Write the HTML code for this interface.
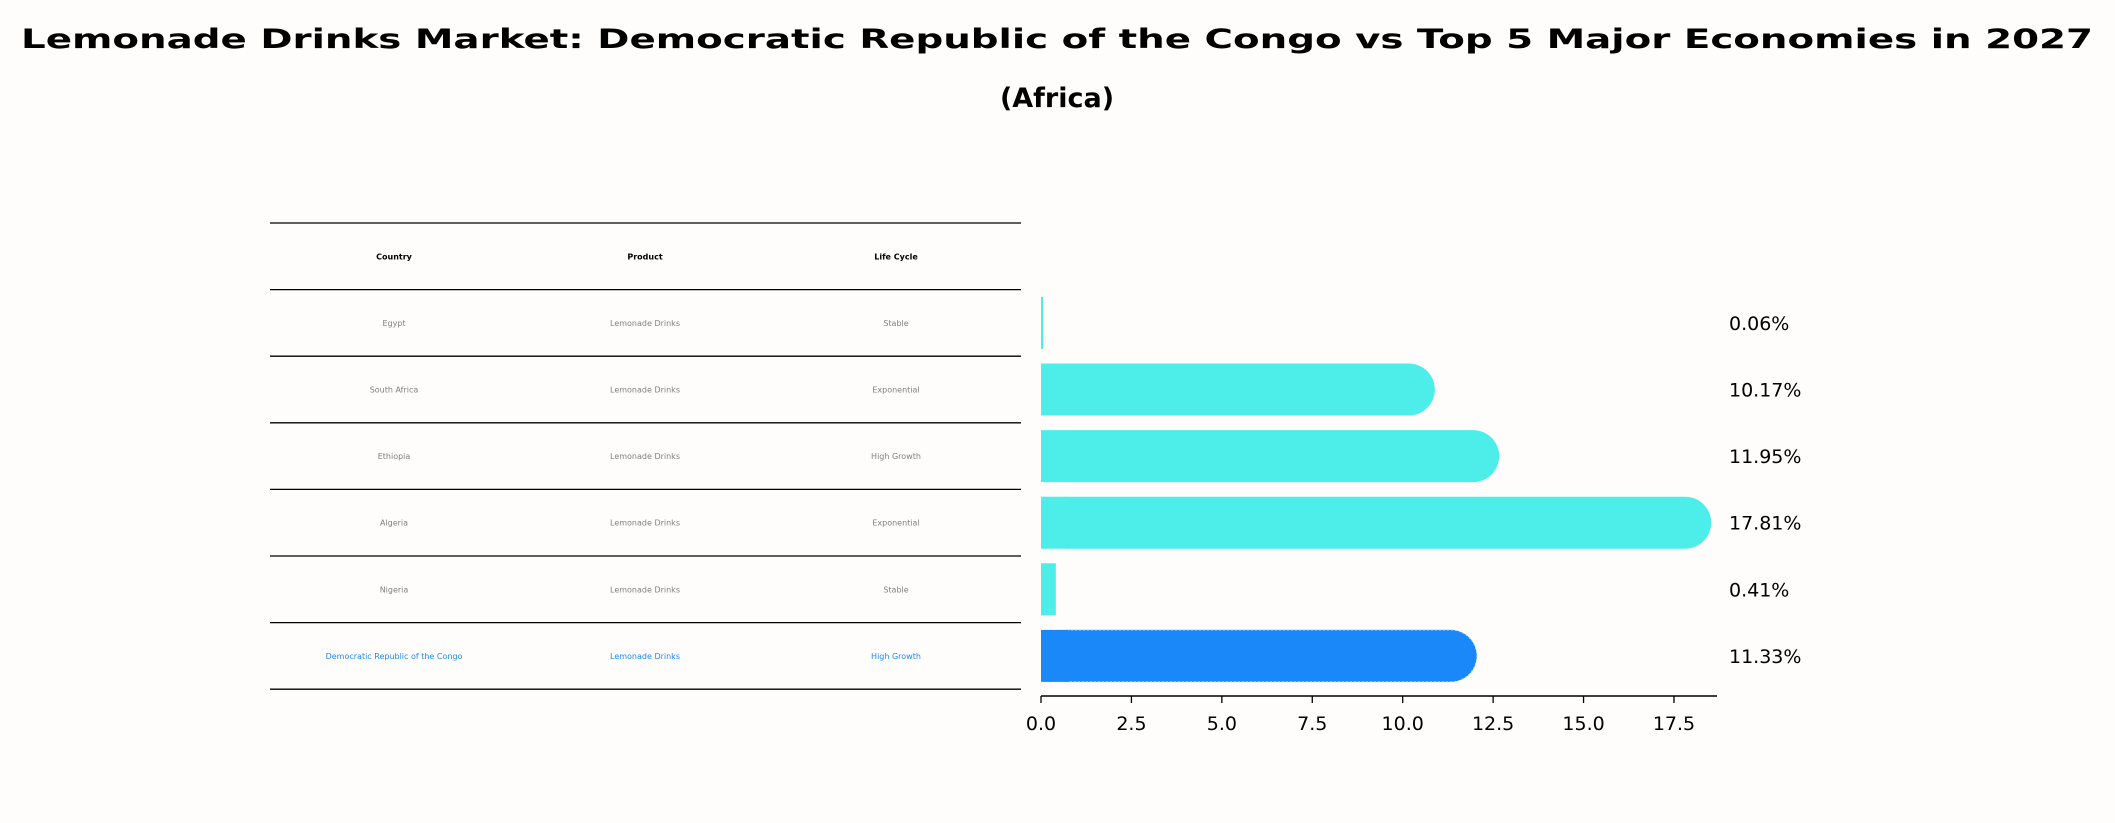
<!DOCTYPE html>
<html><head><meta charset="utf-8"><style>
body{margin:0;background:#fffdfb}
svg{display:block}
text{font-family:"DejaVu Sans","Liberation Sans",sans-serif}
</style></head><body>
<svg width="2115" height="823" viewBox="0 0 2115 823">
<rect width="2115" height="823" fill="#fffdfb"/>
<text x="1057" y="48" text-anchor="middle" font-size="27" font-weight="bold" textLength="2072" lengthAdjust="spacingAndGlyphs">Lemonade Drinks Market: Democratic Republic of the Congo vs Top 5 Major Economies in 2027</text>
<text x="1057" y="107" text-anchor="middle" font-size="27" font-weight="bold">(Africa)</text>
<g id="table"></g>
<g id="bars"></g>
</svg>
<script>
const countries=["Egypt","South Africa","Ethiopia","Algeria","Nigeria","Democratic Republic of the Congo"];
const products=["Lemonade Drinks","Lemonade Drinks","Lemonade Drinks","Lemonade Drinks","Lemonade Drinks","Lemonade Drinks"];
const lifeCycles=["Stable","Exponential","High Growth","Exponential","Stable","High Growth"];
const shares=[0.06,10.17,11.95,17.81,0.41,11.33];
const xTicks=[0,2.5,5,7.5,10,12.5,15,17.5];
const headers=["Country","Product","Life Cycle"];

const NS="http://www.w3.org/2000/svg";
function mk(tag,attrs,parent){const e=document.createElementNS(NS,tag);for(const k in attrs)e.setAttribute(k,attrs[k]);parent.appendChild(e);return e;}
const tbl=document.getElementById('table');
const bars=document.getElementById('bars');
const x0=1041, unit=36.17;
function xs(v){return x0+v*unit;}
const rowTop=223, rowH=66.6;
const colX=[394,645,896];
function rowY(i){return rowTop+rowH*(i+1)+rowH/2;}
// table lines
for(let i=0;i<=countries.length+1;i++){
  const y=rowTop+rowH*i;
  const l=mk('line',{x1:270,x2:1021,y1:y,y2:y,stroke:'#000','stroke-width':1.3},tbl);
  
  
}
headers.forEach((h,j)=>{
  const t=mk('text',{x:colX[j],y:rowTop+rowH/2+3,'text-anchor':'middle','font-size':8,'font-weight':'bold'},tbl);
  t.textContent=h;
  
  
});
countries.forEach((c,i)=>{
  const isT=i===countries.length-1;
  const vals=[c,products[i],lifeCycles[i]];
  vals.forEach((v,j)=>{
    const t=mk('text',{x:colX[j],y:rowY(i)+3,'text-anchor':'middle','font-size':8,fill:isT?'#1a88f8':'#808080'},tbl);
    t.textContent=v;
    
    
  });
});
// bars
const bh=52;
shares.forEach((v,i)=>{
  const isT=i===shares.length-1;
  const cy=rowY(i);
  const w=v*unit;
  const col=isT?'#1a88f8':'#4deeea';
  let el;
  if(w>bh){
    const r=bh/2;
    const d=`M${x0},${cy-r} L${x0+w-r},${cy-r} A${r},${r} 0 0 1 ${x0+w-r},${cy+r} L${x0},${cy+r} Z`;
    el=mk('path',{d:d,fill:col},bars);
    if(isT){el.setAttribute('stroke','#bfe0ff');el.setAttribute('stroke-dasharray','2,2');el.setAttribute('stroke-width','1');}
    // extend by cap so end lies at v + r
    el.setAttribute('transform',`translate(${r},0)`);
    const fix=mk('rect',{x:x0,y:cy-r,width:r+1,height:bh,fill:col},bars);
    
    
  } else {
    el=mk('rect',{x:x0,y:cy-bh/2,width:Math.max(w,1.5),height:bh,fill:col},bars);
  }
  
  
  const t=mk('text',{x:1729,y:cy+7,'font-size':19},bars);
  t.textContent=v.toFixed(2)+'%';
  
  
});
// axis
const ay=696;
const ax=mk('line',{x1:x0,x2:1717,y1:ay,y2:ay,stroke:'#000','stroke-width':1.6},bars);


xTicks.forEach(v=>{
  const tk=mk('line',{x1:xs(v),x2:xs(v),y1:ay,y2:ay+7,stroke:'#000','stroke-width':1.3},bars);
  
  
  const t=mk('text',{x:xs(v),y:ay+34,'text-anchor':'middle','font-size':19},bars);
  t.textContent=v.toFixed(1);
  
  
});
</script>
</body></html>
